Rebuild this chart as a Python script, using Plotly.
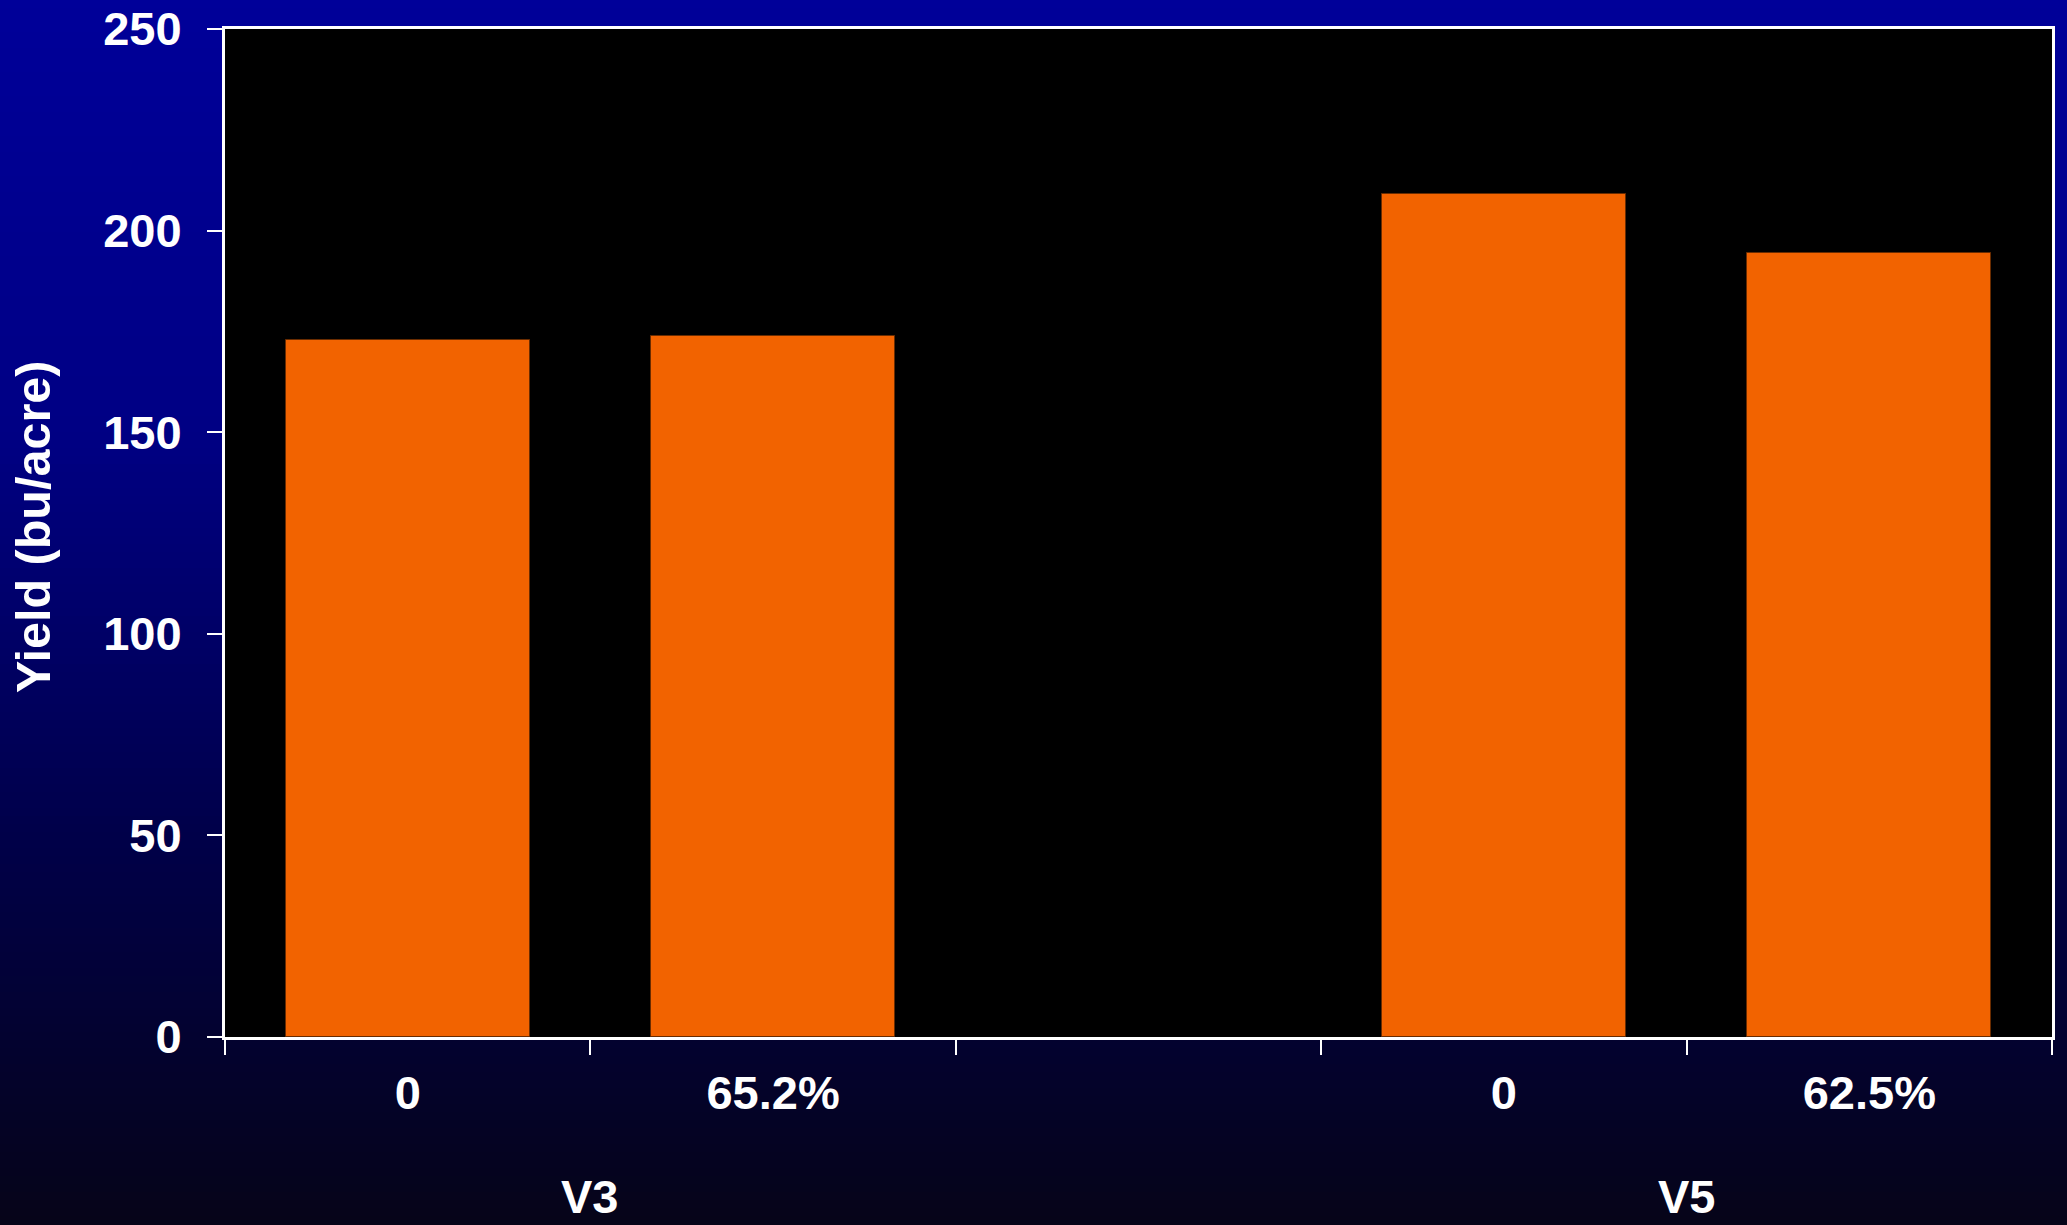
import plotly.graph_objects as go

# ---- data ----
growth_stages = ["V3", "V5"]
treatment_labels = ["0", "65.2%", "0", "62.5%"]
treatment_stage = ["V3", "V3", "V5", "V5"]
yield_values = [172.9, 173.9, 209.2, 194.5]
y_tick_values = [0, 50, 100, 150, 200, 250]

# ---- layout constants ----
W, H = 2067, 1225
ML, MR, MT, MB = 225, 15, 29, 188
PW, PH = W - ML - MR, H - MT - MB
FONT = "Liberation Sans, Arial, sans-serif"
BAR_COLOR = "#F26300"

# slots: each stage group gets its bars plus one empty slot between groups
per_group = {s: [i for i, st in enumerate(treatment_stage) if st == s] for s in growth_stages}
slot_of = {}
slot = 0
group_centers = {}
for gi, s in enumerate(growth_stages):
    idxs = per_group[s]
    start = slot
    for i in idxs:
        slot_of[i] = slot
        slot += 1
    group_centers[s] = (start + slot - 1) / 2
    if gi < len(growth_stages) - 1:
        slot += 1
n_slots = slot
x_pos = [slot_of[i] for i in range(len(yield_values))]

fig = go.Figure()
fig.add_trace(go.Bar(
    x=x_pos, y=yield_values, width=0.667,
    marker=dict(color=BAR_COLOR, line=dict(color="#6a2c00", width=1)),
    showlegend=False, hoverinfo="y",
))

# ---- vertical gradient background via paper shapes ----
def px_to_paper_y(ypx):
    return (H - MB - ypx) / PH

def px_to_paper_x(xpx):
    return (xpx - ML) / PW

stops = [(0, (0, 0, 153)), (430, (0, 0, 132)), (830, (0, 0, 74)), (H, (6, 4, 24))]

def grad_color(ypx):
    for (y0, c0), (y1, c1) in zip(stops[:-1], stops[1:]):
        if y0 <= ypx <= y1:
            t = (ypx - y0) / (y1 - y0)
            return "rgb(%d,%d,%d)" % tuple(round(a + (b - a) * t) for a, b in zip(c0, c1))
    return "rgb(%d,%d,%d)" % stops[-1][1]

shapes = []
step = 8
for ytop in range(0, H, step):
    ybot = min(H, ytop + step + 1)
    shapes.append(dict(
        type="rect", xref="paper", yref="paper", layer="below",
        x0=px_to_paper_x(-2), x1=px_to_paper_x(W + 2),
        y0=px_to_paper_y(ybot), y1=px_to_paper_y(ytop),
        fillcolor=grad_color(ytop + step / 2), line=dict(width=0),
    ))
# black plot area
shapes.append(dict(type="rect", xref="paper", yref="paper", layer="below",
                   x0=0, x1=1, y0=0, y1=1, fillcolor="black", line=dict(width=0)))

annotations = []
for s in growth_stages:
    annotations.append(dict(
        x=group_centers[s], y=px_to_paper_y(1196), xref="x", yref="paper",
        text="<b>%s</b>" % s, showarrow=False, xanchor="center", yanchor="middle",
        font=dict(family=FONT, size=47, color="white"),
    ))
annotations.append(dict(
    x=px_to_paper_x(33), y=px_to_paper_y(527), xref="paper", yref="paper",
    text="<b>Yield (bu/acre)</b>", textangle=-90, showarrow=False,
    xanchor="center", yanchor="middle",
    font=dict(family=FONT, size=48.5, color="white"),
))

fig.update_layout(
    width=W, height=H,
    margin=dict(l=ML, r=MR, t=MT, b=MB, autoexpand=False),
    paper_bgcolor="#000044", plot_bgcolor="black",
    shapes=shapes, annotations=annotations,
    bargap=0,
    font=dict(family=FONT, color="white"),
)

fig.update_xaxes(
    range=[-0.5, n_slots - 0.5],
    tickmode="array", tickvals=x_pos,
    ticktext=["<b>%s</b>" % t for t in treatment_labels],
    ticks="", ticklabelstandoff=13,
    tickfont=dict(family=FONT, size=47, color="white"),
    minor=dict(tickmode="linear", tick0=0.5, dtick=1, ticks="outside",
               ticklen=15, tickwidth=2, tickcolor="white", showgrid=False),
    showline=True, linecolor="white", linewidth=3, mirror=True,
    showgrid=False, zeroline=False, fixedrange=True,
)
fig.update_yaxes(
    range=[0, 250],
    tickmode="array", tickvals=y_tick_values,
    ticktext=["<b>%d</b>" % v for v in y_tick_values],
    ticks="outside", ticklen=15, tickwidth=2, tickcolor="white",
    ticklabelstandoff=16,
    tickfont=dict(family=FONT, size=47, color="white"),
    showline=True, linecolor="white", linewidth=3, mirror=True,
    showgrid=False, zeroline=False, fixedrange=True,
)

fig.write_html(
    "out.html",
    config={"displayModeBar": False},
    post_script="document.body.style.margin='0';document.body.style.overflow='hidden';document.body.style.background='#06041a';",
)
